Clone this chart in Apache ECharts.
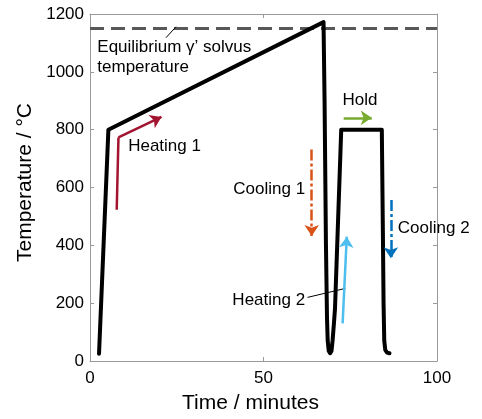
<!DOCTYPE html>
<html>
<head>
<meta charset="utf-8">
<script src="https://cdn.jsdelivr.net/npm/echarts@6/dist/echarts.min.js"></script>
<style>
html,body{margin:0;padding:0;background:#fff;}
#chart{width:482px;height:419px;}
</style>
</head>
<body>
<div id="chart"></div>
<script>
// ---- data ----
const xTicks = [0, 50, 100];
const yTicks = [0, 200, 400, 600, 800, 1000, 1200];
const timeMin = [2.6, 5.3, 67.3, 67.6, 68.0, 68.3, 68.5, 68.8, 69.2, 69.6, 69.9, 70.3, 70.6, 72.4, 84.1, 84.4, 84.6, 84.8, 85.1, 85.6, 86.3];
const tempC   = [25, 800, 1172, 900, 400, 150, 70, 35, 27, 35, 70, 130, 180, 800, 800, 450, 200, 70, 38, 29, 27];
const solvusTemp = 1150;
const solvusX = [0, 100];

// arrows: tail segment(s) drawn plain, final segment carries the arrow head
const arrowNames  = ['Heating 1', 'Cooling 1', 'Hold', 'Heating 2', 'Cooling 2'];
const arrowX = [[7.7, 8.2, 20.6], [63.9, 63.9], [73.1, 81.2], [72.8, 74.0], [86.7, 86.7]];
const arrowY = [[523, 773, 844], [731, 432], [841, 841], [130, 430], [557, 355]];
const arrowColors = ['#A2142F', '#D95319', '#77AC30', '#4DBEEE', '#0072BD'];
const arrowDashed = [false, true, false, false, true];

const labelTexts = ['Equilibrium γ’ solvus\ntemperature', 'Heating 1', 'Cooling 1', 'Hold', 'Heating 2', 'Cooling 2'];
const labelX = [2.1, 11.0, 62.0, 77.8, 62.0, 88.7];
const labelY = [1051, 742, 594, 902, 210, 459];
const labelAlign = ['left', 'left', 'right', 'center', 'right', 'left'];

const leaderX = [[21.9, 24.8], [62.7, 73.6]];
const leaderY = [[1118, 1156], [220, 251]];

// ---- chart ----
const chart = echarts.init(document.getElementById('chart'));
const FONT = '"Liberation Sans", Arial, Helvetica, sans-serif';
const axisGrey = '#9a9a9a';

function axisCommon(extra) {
  return Object.assign({
    axisLine: { show: true, onZero: false, lineStyle: { color: axisGrey, width: 1 } },
    axisTick: { show: true, inside: true, length: 4, lineStyle: { color: axisGrey } },
    splitLine: { show: false }
  }, extra);
}

function arrowStyle(k) {
  return { color: arrowColors[k], width: 2.5, type: arrowDashed[k] ? [11, 3, 3, 3] : 'solid', opacity: 1 };
}

const series = [];
series.push({
  type: 'line', name: 'solvus', xAxisIndex: 0, yAxisIndex: 0,
  data: solvusX.map(x => [x, solvusTemp]),
  symbol: 'none', silent: true,
  lineStyle: { color: '#585858', width: 3, type: [14, 7] }, z: 2
});
series.push({
  type: 'line', name: 'profile', xAxisIndex: 0, yAxisIndex: 0,
  data: timeMin.map((t, i) => [t, tempC[i]]),
  symbol: 'none', silent: true,
  lineStyle: { color: '#000', width: 4, join: 'round', cap: 'round' }, z: 5
});
leaderX.forEach((xs, k) => {
  series.push({
    type: 'line', xAxisIndex: 0, yAxisIndex: 0,
    data: xs.map((x, i) => [x, leaderY[k][i]]),
    symbol: 'none', silent: true,
    lineStyle: { color: '#000', width: 1 }, z: 6
  });
});
// arrow shafts without head (all segments except the last)
const shaftData = [];
const headData = [];
arrowNames.forEach((n, k) => {
  const xs = arrowX[k], ys = arrowY[k];
  for (let i = 0; i < xs.length - 2; i++) {
    shaftData.push({ name: n, coords: [[xs[i], ys[i]], [xs[i + 1], ys[i + 1]]], lineStyle: arrowStyle(k) });
  }
  const m = xs.length - 1;
  headData.push({ name: n, coords: [[xs[m - 1], ys[m - 1]], [xs[m], ys[m]]], lineStyle: arrowStyle(k) });
});
series.push({
  type: 'lines', coordinateSystem: 'cartesian2d', xAxisIndex: 0, yAxisIndex: 0,
  silent: true, symbol: ['none', 'none'],
  data: shaftData, z: 7
});
series.push({
  type: 'lines', coordinateSystem: 'cartesian2d', xAxisIndex: 0, yAxisIndex: 0,
  silent: true, symbol: ['none', 'arrow'], symbolSize: [10, 11],
  data: headData, z: 7
});
series.push({
  type: 'scatter', xAxisIndex: 0, yAxisIndex: 0,
  symbolSize: 0, silent: true,
  itemStyle: { opacity: 1 },
  data: labelTexts.map((t, i) => ({
    value: [labelX[i], labelY[i]],
    label: { show: true, position: 'inside', formatter: t, align: labelAlign[i], verticalAlign: 'middle',
             color: '#000', fontSize: 17, fontFamily: FONT, lineHeight: 20 }
  })),
  z: 8
});

chart.setOption({
  animation: false,
  backgroundColor: '#fff',
  grid: { left: 90, right: 45, top: 14, bottom: 58, containLabel: false },
  xAxis: [
    axisCommon({
      type: 'value', position: 'bottom', min: xTicks[0], max: xTicks[xTicks.length - 1], interval: 50,
      name: 'Time / minutes', nameLocation: 'middle', nameGap: 32,
      nameTextStyle: { color: '#000', fontSize: 21, fontFamily: FONT, padding: [0, 26, 0, 0] },
      axisLabel: { color: '#000', fontSize: 17, fontFamily: FONT, margin: 9, formatter: v => String(v) }
    }),
    axisCommon({
      type: 'value', position: 'top', min: xTicks[0], max: xTicks[xTicks.length - 1], interval: 50,
      axisLabel: { show: false }
    })
  ],
  yAxis: [
    axisCommon({
      type: 'value', position: 'left', min: yTicks[0], max: yTicks[yTicks.length - 1], interval: 200,
      name: 'Temperature / °C', nameLocation: 'middle', nameGap: 52,
      nameTextStyle: { color: '#000', fontSize: 21, fontFamily: FONT, padding: [0, 0, 0, 10] },
      axisLabel: { color: '#000', fontSize: 17, fontFamily: FONT, margin: 6, formatter: v => String(v) }
    }),
    axisCommon({
      type: 'value', position: 'right', min: yTicks[0], max: yTicks[yTicks.length - 1], interval: 200,
      axisLabel: { show: false }
    })
  ],
  series: series
});
</script>
</body>
</html>
